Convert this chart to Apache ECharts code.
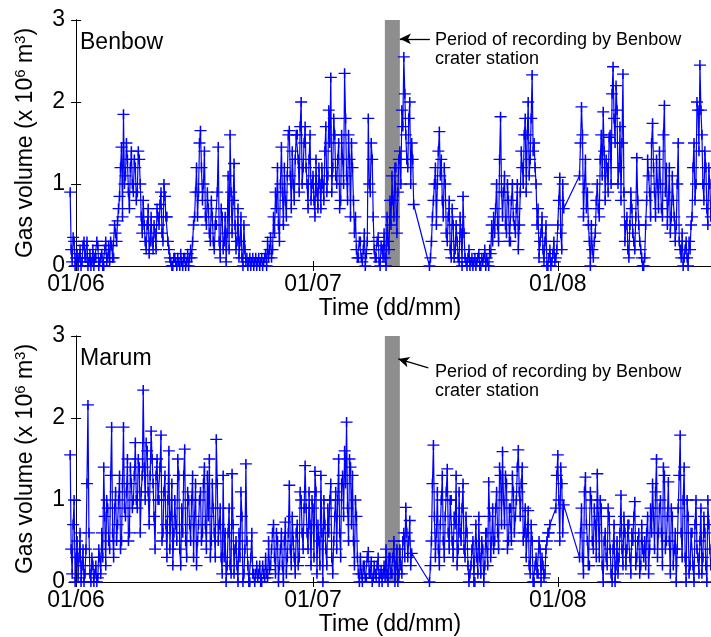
<!DOCTYPE html>
<html>
<head>
<meta charset="utf-8">
<script src="https://cdn.jsdelivr.net/npm/echarts@6/dist/echarts.min.js"></script>
<style>
html,body{margin:0;padding:0;background:#fff;}
#chart{width:711px;height:637px;}
</style>
</head>
<body>
<div id="chart"></div>
<script>
// x values are days since 1 June; readings every 6 hours starting at startDay,
// with a second set of readings taken 3 hours after each of them
const tickDays = [0, 30, 61];
const tickLabels = ['01/06', '01/07', '01/08'];
const startDay = -0.75;
const stepDay = 0.25;
const bandDays = [39.1, 41.0];
const panelNames = ['Benbow', 'Marum'];
const annotationText = 'Period of recording by Benbow\ncrater station';

const benbow = [
  0.9,0.05,0.3,0.1, 0.0,0.2,0.05,0.3, 0.1,0.0,0.15,0.05, 0.0,0.1,0.25,0.05,
  0.15,0.0,0.3,0.1, 0.05,0.25,0.1,0.4, 0.55,0.85,1.45,1.85, 1.1,1.3,0.7,1.4, 0.9,
  1.2,0.9,1.3,0.6, 0.8,0.3,0.5,0.15, 0.6,0.2,0.4,0.7, 0.5,0.9,0.3,0.85,
  0.6,0.2,0.05,0.0, 0.1,0.0,0.05,0.15, 0.0,0.1,0.05,0.0, 0.2,0.3,0.6,1.2, 0.9,
  1.65,0.8,1.4,0.5, 0.7,0.3,0.6,0.2, 0.5,1.45,0.1,0.6, 0.3,0.05,1.1,1.6,
  0.4,1.25,0.2,0.7, 0.3,0.1,0.5,0.05, 0.0,0.1,0.05,0.0, 0.1,
  0.05,0.0,0.1,0.05, 0.15,0.3,0.2,0.1, 0.6,0.9,1.2,0.3, 1.45,0.5,0.8,1.1,
  1.65,0.7,1.0,1.3, 1.6,0.9,2.0,1.2, 1.7,1.0,1.3,0.8,
  // July
  1.1,0.6,0.9,1.2, 0.7,1.0,1.4,0.9, 1.9,2.3,1.2,1.6, 1.0,1.5,0.8,1.3,
  2.35,1.1,1.6,0.6, 1.2,0.4,0.2,0.1, 0.3,0.05,0.4,0.15, 1.8,0.9,1.3,0.2,
  0.1,0.35,0.0,0.2, 0.4,0.0,0.3,0.8, 1.1,0.6,1.2,0.9, 1.4,1.9,2.55,1.6,
  1.2,2.0,1.5,0.75, null,null,null,null, null,null,null,0.0, 0.3,0.8,1.2,1.0,
  1.64,1.3,0.6,1.0, 0.3,0.8,0.1,0.5, 0.2,0.3,0.05,0.4, 0.85,0.1,0.0,0.2,
  0.05,0.0,0.1,0.05, 0.15,0.0,0.05,0.2, 0.1,0.0,0.15,0.3, 0.4,1.0,0.3,1.82,
  0.6,1.1,0.4,0.8, 0.3,1.0,0.5,0.7, 0.2,0.9,1.2,1.6, 0.9,2.0,1.3,2.33,
  1.5,1.0,0.7,0.3, 0.6,0.05,0.5,0.0, 0.2,0.05,0.3,0.1,
  // August
  0.5,1.08,0.2,0.7, null,null,null,null, null,null,null,1.1, 1.94,0.6,1.3,0.9,
  0.3,0.5,0.1,0.4, 1.0,0.6,1.6,1.88, 0.8,1.2,1.57,1.0, 2.43,1.5,1.9,1.2,
  0.8,2.34,0.3,0.6, 0.1,0.9,0.4,0.2, 1.32,0.5,0.2,0.0, 0.1,0.8,1.1,0.6,
  1.74,0.9,1.3,0.7, 1.0,0.6,1.96,1.2, 0.8,0.4,1.1,0.6, 0.5,1.5,0.2,0.4,
  0.1,0.3,0.0,0.2, 0.6,1.5,1.0,1.9, 2.45,1.6,0.8,1.2, 0.5,1.0
];

const benbowMid = [
  0.2,0.35,0.0,0.15, 0.1,0.0,0.25,0.1, 0.3,0.05,0.0,0.2, 0.1,0.3,0.0,0.1,
  0.0,0.2,0.05,0.25, 0.3,0.1,0.5,0.3, 0.7,1.2,0.6,1.0, 1.5,0.9,1.2,1.0, 1.3,
  0.8,1.4,1.0,0.4, 0.5,0.2,0.7,0.3, 0.3,0.5,0.2,0.6, 0.75,0.4,1.0,0.6,
  0.3,0.1,0.0,0.1, 0.05,0.1,0.0,0.05, 0.1,0.0,0.15,0.1, 0.1,0.5,0.9,0.6, 1.5,
  1.2,1.0,0.6,0.9, 0.4,0.8,0.3,0.5, 0.9,0.3,0.7,0.2, 0.6,0.4,0.2,0.9,
  0.8,0.5,0.3,0.1, 0.6,0.0,0.2,0.1, 0.05,0.0,0.1,0.05, 0.0,
  0.1,0.05,0.0,0.1, 0.0,0.1,0.35,0.2, 0.4,0.7,0.5,1.0, 0.9,1.2,0.6,1.6,
  1.1,1.4,0.8,1.6, 1.3,1.7,1.0,1.5, 1.2,0.7,1.6,1.0,
  // July
  0.8,1.3,0.7,1.0, 1.2,0.8,1.7,1.1, 1.5,0.9,1.8,1.1, 1.3,0.7,1.6,1.0,
  1.8,0.8,1.3,1.5, 0.8,0.6,0.1,0.3, 0.1,0.2,0.0,0.3, 1.0,1.5,0.6,0.1,
  0.3,0.05,0.25,0.1, 0.1,0.6,0.2,0.5, 0.8,1.2,0.4,1.3, 1.0,1.7,2.1,1.3,
  1.8,1.0,1.3,null, null,null,null,null, null,null,null,0.1, 0.6,1.0,0.5,1.4,
  1.1,0.8,1.2,0.4, 0.6,0.2,0.7,0.1, 0.5,0.1,0.6,0.0, 0.4,0.05,0.1,0.0,
  0.1,0.05,0.0,0.1, 0.0,0.1,0.1,0.0, 0.05,0.2,0.5,0.6, 0.7,0.5,1.3,0.9,
  0.9,0.5,1.0,0.3, 0.8,0.6,0.4,1.0, 0.5,1.4,1.0,1.8, 1.6,1.1,1.8,1.4,
  1.2,0.5,0.1,0.4, 0.2,0.3,0.0,0.1, 0.0,0.15,0.05,0.2,
  // August
  0.8,0.4,1.0,null, null,null,null,null, null,null,null,1.5, 1.6,1.0,0.7,0.5,
  0.0,0.2,0.3,0.8, 0.7,1.3,1.1,1.4, 1.3,0.9,1.6,2.1, 1.8,2.2,1.0,1.7,
  1.5,0.9,0.5,0.2, 0.5,0.7,0.3,0.6, 0.8,0.3,0.1,0.0, 0.5,1.3,0.9,1.5,
  1.2,0.6,1.0,1.4, 0.7,1.6,0.9,0.5, 1.2,0.6,0.8,0.3, 1.0,0.3,0.1,0.0,
  0.2,0.1,0.3,0.5, 1.2,0.8,2.0,1.4, 1.9,1.0,1.4,0.7, 1.2,0.6
];

const marum = [
  1.55,0.1,1.0,0.3, 0.05,0.6,0.2,0.0, 0.4,2.16,0.1,0.3, 0.0,0.2,0.05,0.3,
  0.6,1.4,0.2,0.9, 0.4,1.89,0.3,1.1, 0.7,1.3,0.5,1.89, 0.8,1.5,0.6,1.2, 1.0,
  1.7,0.9,1.4,1.1, 2.34,1.0,1.6,0.7, 1.84,1.2,0.4,1.5, 1.0,1.79,0.6,1.3,
  0.3,1.6,0.8,0.2, 1.0,0.5,1.3,0.2, 0.6,1.62,0.3,1.0, 0.5,1.3,0.8,0.2, 0.7,
  1.1,0.6,1.4,0.4, 0.8,0.3,1.2,0.6, 1.74,0.5,0.9,0.1, 0.3,0.0,0.6,0.2,
  1.32,0.1,0.5,0.0, 0.3,0.8,0.1,1.44, 0.2,0.0,0.6,0.1, 0.1,
  0.05,0.2,0.0,0.1, 0.3,0.05,0.15,0.4, 0.7,0.1,0.5,0.2, 0.6,0.0,0.73,0.3,
  1.18,0.2,0.5,0.1, 0.7,0.3,1.0,0.4, 1.42,0.6,1.1,0.2,
  // July
  0.9,1.35,0.1,0.5, 1.3,0.0,0.7,0.2, 0.6,1.2,0.1,0.8, 0.4,1.5,0.3,1.3,
  1.6,1.95,0.5,1.4, 1.3,0.2,0.8,0.1, 0.3,0.0,0.2,0.05, 0.37,0.1,0.0,0.2,
  0.05,0.3,0.1,0.0, 0.2,0.4,0.0,0.3, 0.1,0.5,0.2,0.0, 0.4,0.1,0.6,0.91,
  0.3,0.75,0.35,null, null,null,null,null, null,null,null,0.0, 0.5,1.67,0.3,1.1,
  0.2,1.0,0.5,0.8, 1.38,0.4,1.0,0.3, 0.7,0.2,1.1,0.5, 1.2,0.3,0.6,0.0,
  0.2,0.5,0.0,0.3, 0.8,0.1,0.4,0.2, 0.6,1.22,0.3,0.9, 0.5,1.1,0.4,1.3,
  1.59,0.7,1.2,0.5, 0.9,1.3,0.6,1.0, 1.61,0.8,1.4,0.6, 0.3,0.87,0.1,0.5,
  0.0,0.3,0.1,0.4, 0.3,0.05,0.4,0.6, 0.7,null,null,0.9,
  // August
  1.55,0.5,1.2,0.94, null,null,null,null, null,null,null,0.3, 0.9,0.1,1.28,0.5,
  0.2,1.0,0.4,0.7, 1.32,0.3,0.9,0.0, 0.6,0.2,0.8,0.1, 0.4,0.0,0.5,0.3,
  1.06,0.2,0.6,0.4, 0.7,0.1,0.5,0.98, 0.3,0.6,0.2,0.4, 0.5,0.6,0.1,0.9,
  1.2,0.4,1.5,0.6, 1.0,0.2,1.3,0.5, 1.22,0.1,0.8,0.4, 0.0,0.9,1.79,0.3,
  1.4,0.0,0.8,0.2, 0.6,0.0,1.0,0.3, 0.5,0.1,0.8,0.2, 1.0,0.4
];

const marumMid = [
  0.4,0.7,0.0,0.5, 0.3,0.0,0.4,0.1, 1.2,0.6,0.0,0.2, 0.1,0.0,0.4,0.1,
  0.3,0.8,1.0,0.5, 1.3,0.6,0.9,0.5, 1.0,0.4,1.2,0.9, 1.1,0.5,1.4,0.9, 1.3,
  1.0,1.5,0.6,1.3, 1.4,1.7,1.1,1.3, 1.5,0.8,1.3,1.0, 1.4,0.5,1.1,0.7,
  1.0,0.4,1.2,0.6, 0.7,1.5,0.4,0.9, 1.3,0.5,1.1,0.7, 1.0,0.3,1.2,0.5, 1.0,
  0.5,1.2,0.7,1.3, 1.5,0.5,0.9,0.3, 1.2,0.7,0.3,1.3, 0.6,0.2,0.9,0.1,
  0.7,0.4,0.2,0.6, 1.1,0.0,0.4,0.5, 0.0,0.3,0.1,0.0, 0.2,
  0.1,0.0,0.2,0.05, 0.1,0.5,0.2,0.6, 0.3,0.6,0.0,0.4, 0.2,0.5,0.1,0.6,
  0.4,0.8,0.3,0.6, 0.2,1.1,0.6,0.9, 0.9,0.4,0.7,1.0,
  // July
  0.3,1.1,0.7,0.2, 0.6,1.0,0.4,0.9, 1.0,0.3,0.5,1.1, 1.0,0.6,1.2,0.8,
  1.2,0.9,1.5,0.7, 0.5,1.0,0.3,0.0, 0.1,0.2,0.05,0.3, 0.1,0.25,0.05,0.1,
  0.2,0.0,0.15,0.1, 0.05,0.1,0.3,0.1, 0.3,0.0,0.4,0.1, 0.2,0.5,0.3,0.6,
  0.5,0.2,null,null, null,null,null,null, null,null,null,0.2, 1.2,0.8,0.6,0.4,
  0.7,1.3,0.3,1.1, 0.6,1.0,0.5,0.8, 1.3,0.4,0.6,0.9, 0.4,0.8,0.2,0.1,
  0.4,0.0,0.7,0.1, 0.3,0.5,0.0,0.6, 0.2,0.8,0.5,0.4, 0.9,0.6,1.4,0.7,
  1.0,1.3,0.4,0.9, 0.5,1.1,0.8,1.4, 1.1,1.2,0.5,0.9, 0.6,0.2,0.7,0.0,
  0.2,0.1,0.5,0.0, 0.2,0.1,0.5,0.6, null,null,null,1.3,
  // August
  1.0,1.4,0.6,null, null,null,null,null, null,null,null,0.6, 0.3,1.1,0.7,0.2,
  1.1,0.5,0.9,0.3, 0.8,1.0,0.2,0.5, 0.3,0.9,0.4,0.0, 0.7,0.2,0.1,0.6,
  0.4,0.8,0.2,0.7, 0.3,0.6,0.8,0.2, 0.5,0.1,0.7,0.3, 0.2,0.8,0.4,0.6,
  0.8,1.1,0.3,0.9, 0.6,1.4,0.4,0.8, 0.5,0.9,0.2,0.6, 0.4,1.3,0.6,1.0,
  0.3,1.0,0.1,0.6, 0.2,0.7,0.4,0.1, 0.9,0.3,0.6,0.0, 0.7,0.2
];

const FONT = 'Liberation Sans, Arial, Helvetica, sans-serif';
const toPairs = (vals, mids) => {
  const out = [];
  vals.forEach((v, i) => {
    const d = startDay + i * stepDay;
    out.push([d, v]);
    if (i < mids.length) out.push([d + stepDay / 2, mids[i]]);
  });
  return out;
};
const gridTops = [20, 336];
const gridH = 246;

const grids = [], xAxes = [], yAxes = [], series = [], graphics = [];
const arrowCoords = [
  [[44.8, 2.77], [41.0, 2.77]],
  [[44.6, 2.61], [40.8, 2.72]]
];
const textTops = [31, 363];
const seriesVals = [[benbow, benbowMid], [marum, marumMid]];

seriesVals.forEach((pair, p) => {
  grids.push({left: 69, right: 0, top: gridTops[p], height: gridH, containLabel: false});
  const xBase = {
    type: 'value', gridIndex: p, min: -0.9, max: 80.4,
    splitLine: {show: false},
    axisLine: {show: true, lineStyle: {color: '#000', width: 1}},
  };
  xAxes.push(Object.assign({}, xBase, {
    position: 'bottom',
    name: 'Time (dd/mm)', nameLocation: 'middle', nameGap: 31,
    nameTextStyle: {fontFamily: FONT, fontSize: 23, color: '#000'},
    axisTick: {show: true, inside: true, length: 5, customValues: tickDays, lineStyle: {color: '#000'}},
    axisLabel: {show: true, margin: 7, fontFamily: FONT, fontSize: 23, color: '#000',
      customValues: tickDays,
      formatter: v => tickLabels[tickDays.indexOf(Math.round(v))] || ''}
  }));
  xAxes.push(Object.assign({}, xBase, {
    position: 'top',
    axisTick: {show: true, inside: true, length: 5, customValues: tickDays, lineStyle: {color: '#000'}},
    axisLabel: {show: false}
  }));
  const yBase = {
    type: 'value', gridIndex: p, min: 0, max: 3, interval: 1,
    splitLine: {show: false},
    axisLine: {show: true, lineStyle: {color: '#000', width: 1}},
    axisTick: {show: true, inside: true, length: 5, lineStyle: {color: '#000'}}
  };
  yAxes.push(Object.assign({}, yBase, {
    position: 'left',
    name: 'Gas volume (x 10{sup|6} m{sup|3})', nameLocation: 'middle', nameGap: 30,
    nameTextStyle: {fontFamily: FONT, fontSize: 23, color: '#000', lineHeight: 26,
      rich: {sup: {fontFamily: FONT, fontSize: 15, color: '#000', verticalAlign: 'top', lineHeight: 26}}},
    axisLabel: {show: true, margin: 4, fontFamily: FONT, fontSize: 23, color: '#000'}
  }));
  yAxes.push(Object.assign({}, yBase, {position: 'right', axisLabel: {show: false}}));

  series.push({
    type: 'line', xAxisIndex: 2 * p, yAxisIndex: 2 * p, data: [], z: 1, silent: true,
    markArea: {
      silent: true,
      itemStyle: {color: '#8e8e8e', opacity: 1},
      data: [[{xAxis: bandDays[0], yAxis: 0}, {xAxis: bandDays[1], yAxis: 3}]]
    },
    markLine: {
      silent: true, symbol: ['none', 'arrow'], symbolSize: [8, 11],
      lineStyle: {color: '#000', width: 1.3, type: 'solid'},
      label: {show: false},
      data: [[{coord: arrowCoords[p][0]}, {coord: arrowCoords[p][1]}]]
    }
  });
  series.push({
    type: 'line', name: panelNames[p], xAxisIndex: 2 * p, yAxisIndex: 2 * p,
    data: toPairs(pair[0], pair[1]), connectNulls: true, z: 3,
    showAllSymbol: true, showSymbol: true,
    symbol: 'path://M0,5L10,5M5,0L5,10', symbolSize: [12, 10],
    lineStyle: {color: '#0000ff', width: 1.2},
    itemStyle: {color: '#0000ff', borderColor: '#0000ff', borderWidth: 1.4},
    animation: false
  });

  graphics.push({
    type: 'text', left: 80, top: gridTops[p] + 11, z: 10,
    style: {text: panelNames[p], font: '23px ' + FONT, fill: '#000'}
  });
  graphics.push({
    type: 'text', left: 435, top: textTops[p], z: 10,
    style: {text: annotationText, font: '18px ' + FONT, lineHeight: 19, fill: '#000'}
  });
});

const chart = echarts.init(document.getElementById('chart'), null, {renderer: 'canvas'});
chart.setOption({
  animation: false,
  backgroundColor: '#fff',
  grid: grids,
  xAxis: xAxes,
  yAxis: yAxes,
  series: series,
  graphic: graphics
});
</script>
</body>
</html>
